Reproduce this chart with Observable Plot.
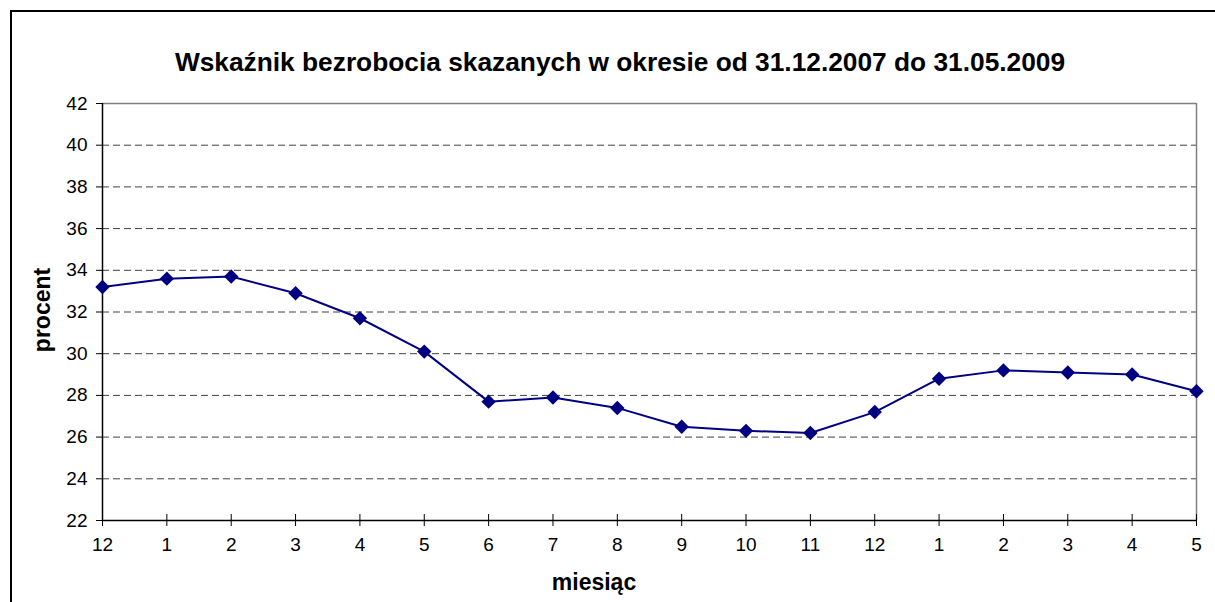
<!DOCTYPE html>
<html>
<head>
<meta charset="utf-8">
<script src="https://cdn.jsdelivr.net/npm/d3@7"></script>
<script src="https://cdn.jsdelivr.net/npm/@observablehq/plot@0.6"></script>
<style>
  html, body { margin: 0; padding: 0; background: #fff; overflow: hidden; }
  #wrap { position: relative; width: 1215px; height: 602px; overflow: hidden; font-family: "Liberation Sans", Arial, sans-serif; }
  #border { position: absolute; left: 10px; top: 10px; width: 1300px; height: 700px; border: 2px solid #000; box-sizing: border-box; }
  #title { position: absolute; left: 0; width: 1240px; top: 45px; line-height: 34px; text-align: center; font-weight: bold; font-size: 26.3px; color: #000; }
  #chart { position: absolute; left: 0; top: 0; }
  #xlabel { position: absolute; left: 0; width: 1188px; top: 568px; line-height: 28px; text-align: center; font-weight: bold; font-size: 23px; }
  #ylabel { position: absolute; left: 42px; top: 310px; transform: translate(-50%, -50%) rotate(-90deg); font-weight: bold; font-size: 23px; white-space: nowrap; line-height: 28px; }
</style>
</head>
<body>
<div id="wrap">
  <div id="border"></div>
  <div id="chart"></div>
  <div id="title">Wskaźnik bezrobocia skazanych w okresie od 31.12.2007 do 31.05.2009</div>
  <div id="xlabel">miesiąc</div>
  <div id="ylabel">procent</div>
</div>
<script>
const months = ["12","1","2","3","4","5","6","7","8","9","10","11","12","1","2","3","4","5"];
const values = [33.2,33.6,33.7,32.9,31.7,30.1,27.7,27.9,27.4,26.5,26.3,26.2,27.2,28.8,29.2,29.1,29.0,28.2];
const yTicks = [22,24,26,28,30,32,34,36,38,40,42];
const gridTicks = [24,26,28,30,32,34,36,38,40];

const data = values.map((v, i) => ({i, v}));
const idx = months.map((_, i) => i);

const chart = Plot.plot({
  width: 1215,
  height: 602,
  marginLeft: 102,
  marginRight: 19,
  marginTop: 103,
  marginBottom: 82,
  style: {fontFamily: "'Liberation Sans', Arial, sans-serif", fontSize: "19px", color: "#000", background: "transparent", overflow: "visible"},
  x: {type: "linear", domain: [0, months.length - 1]},
  y: {domain: [22, 42]},
  marks: [
    Plot.ruleY(gridTicks, {stroke: "#000", strokeOpacity: 0.75, strokeDasharray: "7,4", strokeWidth: 1}),
    Plot.ruleY([42], {stroke: "#808080", strokeWidth: 1.5}),
    Plot.ruleX([months.length - 1], {stroke: "#808080", strokeWidth: 1.5}),
    Plot.axisY({ticks: yTicks, tickSize: 6, tickPadding: 9, label: null, stroke: "#000", fill: "#000", fontSize: 19}),
    Plot.axisX({ticks: idx, tickFormat: i => months[i], tickSize: 0, tickPadding: 17, label: null, fill: "#000", fontSize: 19}),
    Plot.ruleX(idx, {x: d => d, y1: 22, y2: 22, stroke: "#000", strokeWidth: 1, insetTop: -6, insetBottom: -6}),
    Plot.ruleX([0], {stroke: "#000", strokeWidth: 1.5}),
    Plot.ruleY([22], {stroke: "#000", strokeWidth: 1.5}),
    Plot.line(data, {x: "i", y: "v", stroke: "#000080", strokeWidth: 2}),
    Plot.dot(data, {x: "i", y: "v", symbol: "diamond2", r: 6.5, fill: "#000080", stroke: "none"})
  ]
});
document.getElementById("chart").appendChild(chart);
</script>
</body>
</html>
